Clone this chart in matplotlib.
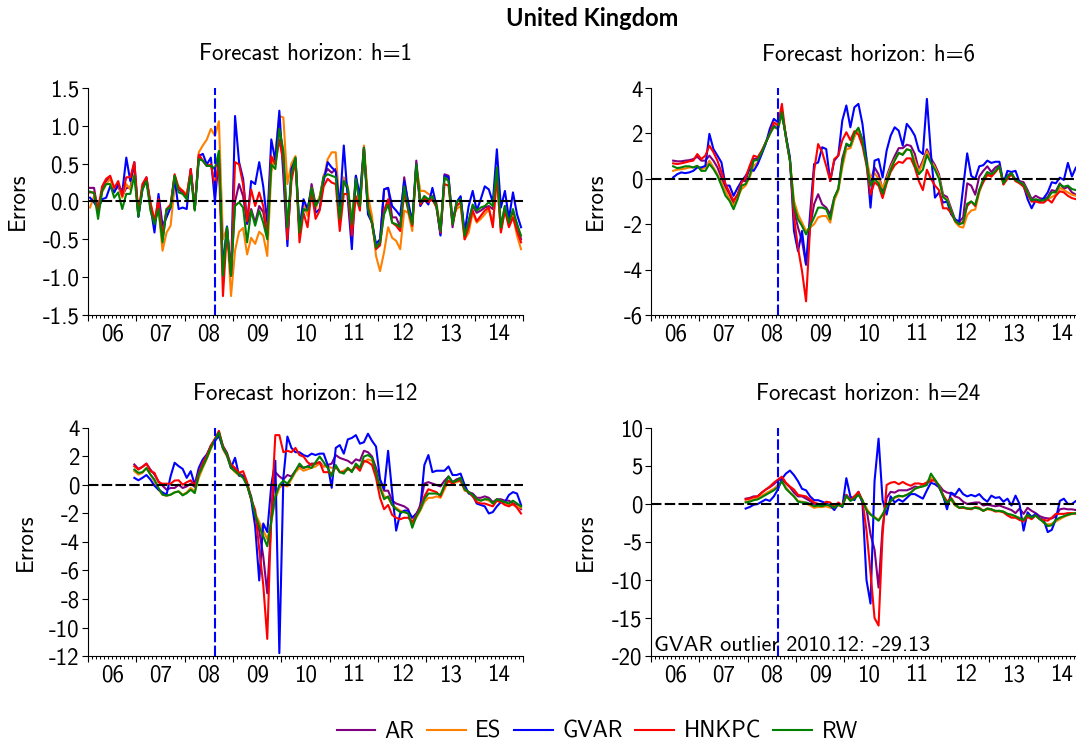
import numpy as np
import matplotlib.pyplot as plt
from matplotlib.ticker import FixedLocator, FuncFormatter, NullFormatter
from matplotlib.lines import Line2D

plt.rcParams['font.family'] = ['cmss10', 'DejaVu Sans']
plt.rcParams['axes.unicode_minus'] = False

models = ['AR', 'ES', 'GVAR', 'HNKPC', 'RW']
colors = ['#800080', '#ff8000', '#0000ff', '#ff0000', '#008000']

# forecast errors, monthly; start = months after 2006-01
h1_start = 0
h1_ar = [0.18, 0.18, -0.15, 0.14, 0.27, 0.32, 0.14, 0.20, 0.07, 0.18,
         0.18, 0.45, -0.20, 0.20, 0.32, -0.06, -0.28, -0.06, -0.50, -0.12,
         -0.06, 0.34, 0.16, 0.12, 0.07, 0.40, -0.10, 0.58, 0.54, 0.47,
         0.47, 0.43, 0.62, -0.90, -0.34, -0.98, 0.00, 0.23, 0.07, -0.30,
         -0.10, -0.28, -0.06, -0.14, -0.45, 0.56, 0.50, 0.98, 0.62, -0.45,
         0.36, 0.58, -0.43, -0.10, -0.15, 0.23, -0.04, 0.05, 0.34, 0.43,
         0.38, 0.43, -0.21, 0.27, 0.16, -0.28, 0.34, -0.06, 0.71, -0.10,
         -0.28, -0.61, -0.54, 0.16, 0.18, -0.21, -0.21, -0.34, 0.32, -0.04,
         -0.28, 0.54, -0.04, 0.07, 0.01, 0.07, -0.04, -0.43, 0.36, 0.34,
         -0.34, -0.01, 0.05, -0.45, -0.26, -0.06, -0.15, -0.12, -0.08, -0.06,
         -0.10, 0.43, -0.34, -0.06, -0.30, -0.15, -0.30, -0.50]
h1_es = [-0.08, 0.07, -0.10, 0.12, 0.23, 0.30, 0.16, 0.23, 0.05, 0.23,
         0.16, 0.38, -0.15, 0.16, 0.27, -0.04, -0.23, -0.10, -0.65, -0.41,
         -0.32, 0.20, 0.20, 0.14, 0.10, 0.38, -0.10, 0.65, 0.74, 0.82,
         0.96, 0.87, 1.06, -0.50, -0.35, -1.25, -0.65, -0.40, -0.35, -0.70,
         -0.48, -0.56, -0.40, -0.45, -0.72, 0.38, 0.65, 1.13, 1.11, 0.23,
         0.50, 0.60, -0.37, 0.00, -0.19, 0.18, -0.10, 0.07, 0.30, 0.56,
         0.65, 0.65, -0.10, 0.32, 0.20, -0.28, 0.25, 0.03, 0.74, 0.07,
         -0.19, -0.72, -0.92, -0.67, -0.34, -0.48, -0.52, -0.63, -0.12, -0.15,
         -0.39, 0.47, 0.14, 0.14, 0.10, 0.07, -0.01, -0.37, 0.32, 0.30,
         -0.21, -0.10, -0.06, -0.50, -0.41, -0.15, -0.28, -0.23, -0.17, -0.10,
         -0.30, 0.32, -0.39, -0.10, -0.32, -0.19, -0.45, -0.63]
h1_gvar = [0.05, -0.01, -0.10, 0.03, 0.05, 0.20, 0.12, 0.23, 0.12, 0.58,
           0.27, 0.52, -0.20, 0.16, 0.30, -0.06, -0.41, 0.10, -0.32, -0.21,
           -0.08, 0.30, -0.10, -0.08, -0.10, 0.43, -0.10, 0.60, 0.63, 0.49,
           0.58, 0.00, 0.60, -0.90, -0.33, -0.98, 1.13, 0.52, 0.30, -0.28,
           0.27, 0.23, 0.52, 0.20, -0.28, 0.82, 0.54, 1.20, 0.34, -0.59,
           0.43, 0.56, -0.37, 0.03, -0.10, 0.16, -0.15, -0.10, 0.27, 0.52,
           0.45, 0.40, -0.06, 0.74, 0.03, -0.63, 0.34, 0.07, 0.71, -0.17,
           -0.28, -0.56, -0.50, 0.16, 0.18, -0.06, -0.12, -0.19, 0.27, -0.01,
           -0.28, 0.49, -0.06, 0.03, -0.04, 0.18, -0.06, -0.45, 0.34, 0.32,
           -0.28, -0.01, 0.07, -0.41, -0.06, 0.14, -0.12, 0.03, 0.20, 0.16,
           -0.01, 0.69, -0.08, 0.14, -0.23, 0.12, -0.17, -0.34]
h1_hnkpc = [0.12, 0.12, -0.10, 0.20, 0.30, 0.34, 0.18, 0.27, 0.07, 0.32,
            0.32, 0.52, -0.15, 0.23, 0.32, -0.01, -0.26, 0.03, -0.45, -0.10,
            -0.04, 0.36, 0.18, 0.14, 0.07, 0.43, -0.10, 0.62, 0.54, 0.47,
            0.49, 0.20, 0.52, -1.25, -0.37, -0.98, 0.52, 0.49, 0.23, -0.26,
            0.16, -0.06, 0.12, -0.06, -0.45, 0.60, 0.49, 0.82, 0.52, -0.50,
            0.27, 0.54, -0.54, -0.15, -0.34, 0.14, -0.23, -0.12, 0.20, 0.30,
            0.25, 0.23, -0.39, 0.10, 0.10, -0.45, 0.07, -0.12, 0.70, -0.06,
            -0.30, -0.63, -0.58, -0.12, 0.03, -0.28, -0.32, -0.39, 0.12, -0.12,
            -0.32, 0.45, -0.04, 0.05, -0.01, 0.03, -0.08, -0.41, 0.23, 0.21,
            -0.30, -0.06, -0.01, -0.50, -0.34, -0.12, -0.26, -0.19, -0.12, -0.08,
            -0.34, 0.34, -0.41, -0.12, -0.34, -0.21, -0.39, -0.54]
h1_rw = [0.13, 0.11, -0.23, 0.14, 0.23, 0.23, 0.05, 0.12, -0.10, 0.10,
         0.10, 0.34, -0.20, 0.16, 0.27, -0.12, -0.30, -0.10, -0.54, -0.10,
         -0.08, 0.34, 0.12, 0.10, 0.03, 0.34, -0.12, 0.56, 0.54, 0.47,
         0.47, 0.43, 0.67, -0.98, -0.34, -0.98, -0.06, -0.01, -0.08, -0.54,
         -0.12, -0.32, -0.12, -0.28, -0.50, 0.49, 0.43, 0.96, 0.67, -0.34,
         0.36, 0.58, -0.41, -0.10, -0.12, 0.18, -0.06, 0.03, 0.32, 0.36,
         0.34, 0.32, -0.23, 0.27, 0.18, -0.30, 0.30, -0.06, 0.71, -0.10,
         -0.28, -0.61, -0.54, -0.17, -0.04, -0.28, -0.30, -0.34, 0.20, -0.10,
         -0.30, 0.49, -0.01, 0.07, 0.03, 0.07, -0.06, -0.39, 0.32, 0.27,
         -0.30, -0.01, 0.03, -0.45, -0.26, -0.04, -0.12, -0.08, -0.06, -0.01,
         -0.06, 0.45, -0.34, -0.06, -0.28, -0.10, -0.30, -0.45]

h6_start = 5
h6_ar = [0.80, 0.77, 0.77, 0.80, 0.82, 0.87, 0.97, 0.80, 0.80, 1.02,
         0.80, 0.50, 0.05, -0.38, -0.68, -1.12, -0.80, -0.10, -0.10, 0.50,
         0.87, 0.90, 1.20, 1.60, 1.98, 2.35, 2.20, 3.00, 1.83, 0.80,
         -1.40, -2.15, -2.74, -3.78, -2.15, -1.12, -0.68, -1.12, -1.27, -1.56,
         -0.83, -0.45, 0.90, 1.50, 1.40, 1.90, 2.20, 1.70, 0.80, -0.15,
         0.50, 0.20, -0.50, 0.10, 0.60, 1.00, 1.35, 1.35, 1.50, 1.45,
         1.10, 0.40, 0.80, 1.30, 0.90, 0.60, 0.20, -0.70, -0.80, -1.30,
         -1.80, -1.90, -1.70, -0.20, -0.30, -0.70, 0.10, 0.35, 0.55, 0.30,
         0.50, 0.60, -0.20, 0.15, 0.25, -0.05, -0.10, -0.15, -0.50, -0.90,
         -0.75, -0.85, -0.90, -0.80, -0.50, -0.55, -0.20, -0.45, -0.35, -0.60,
         -0.70, -0.75, -0.80]
h6_es = [0.35, 0.40, 0.42, 0.45, 0.50, 0.50, 0.57, 0.42, 0.50, 0.80,
         0.50, 0.20, -0.16, -0.53, -0.90, -1.19, -0.83, -0.45, -0.30, 0.06,
         0.57, 0.72, 1.17, 1.60, 1.98, 2.27, 2.20, 2.80, 1.90, 0.80,
         -0.97, -1.56, -1.93, -2.30, -2.15, -2.00, -1.70, -1.64, -1.64, -1.93,
         -0.97, -0.53, 0.50, 1.30, 1.35, 1.85, 2.15, 1.75, 0.90, 0.00,
         0.25, 0.00, -0.40, 0.00, 0.50, 0.85, 1.10, 1.10, 1.30, 1.25,
         0.80, 0.30, 0.70, 1.20, 0.80, 0.50, 0.10, -0.80, -0.90, -1.40,
         -1.90, -2.10, -2.15, -1.60, -1.40, -1.35, -0.60, -0.10, 0.15, 0.10,
         0.30, 0.50, -0.25, 0.10, 0.20, -0.10, -0.15, -0.25, -0.60, -1.00,
         -0.95, -1.00, -0.95, -0.90, -0.80, -0.70, -0.40, -0.50, -0.60, -0.70,
         -0.75, -0.80, -0.85]
h6_gvar = [0.06, 0.20, 0.28, 0.25, 0.28, 0.35, 0.50, 0.50, 0.57, 1.98,
           1.31, 1.02, 0.72, -0.30, -0.30, -0.75, -0.40, -0.10, 0.13, 0.43,
           0.35, 0.65, 1.09, 1.55, 2.20, 2.64, 2.49, 2.86, 1.90, 0.95,
           -2.30, -3.19, -2.30, -3.78, -1.56, 0.65, 0.72, 1.39, 1.31, -0.10,
           0.80, 1.02, 2.57, 3.23, 2.27, 3.15, 3.30, 2.42, 0.87, -1.27,
           0.80, 0.87, 0.06, 1.24, 1.90, 2.27, 2.12, 1.46, 2.42, 2.20,
           1.90, 1.24, 1.09, 3.52, 1.10, -0.83, -0.60, -1.05, -1.00, -1.56,
           -1.78, -1.90, -0.38, 1.12, 0.13, 0.00, 0.55, 0.60, 0.80, 0.70,
           0.75, 0.75, -0.20, 0.35, 0.30, 0.35, -0.15, -0.30, -0.90, -1.30,
           -0.95, -1.00, -0.85, -0.60, -0.15, -0.20, 0.05, -0.05, 0.70, 0.10,
           0.50, 0.60, 0.40]
h6_hnkpc = [0.68, 0.65, 0.68, 0.72, 0.77, 0.80, 1.09, 0.87, 1.02, 1.46,
            1.17, 0.80, 0.28, -0.23, -0.60, -0.97, -0.68, -0.16, 0.06, 0.57,
            1.02, 0.95, 1.24, 1.60, 1.98, 2.49, 2.35, 3.30, 1.83, 0.80,
            -1.70, -3.04, -4.07, -5.40, -2.15, 0.35, 1.53, 1.17, 0.57, -0.10,
            0.87, 1.02, 1.70, 2.05, 1.70, 2.10, 1.95, 1.45, 0.60, -0.70,
            -0.15, -0.30, -0.85, -0.20, 0.30, 0.60, 0.75, 0.70, 0.90, 0.90,
            0.50, -0.10, -0.50, 0.40, 0.00, -0.30, -0.50, -1.30, -1.30, -1.50,
            -1.85, -2.00, -1.90, -1.20, -1.00, -1.20, -0.50, -0.15, 0.20, 0.10,
            0.30, 0.55, -0.25, 0.00, 0.20, -0.10, -0.20, -0.35, -0.70, -1.00,
            -1.00, -1.05, -1.05, -0.90, -1.05, -0.75, -0.55, -0.60, -0.75, -0.85,
            -0.90, -0.95, -1.00]
h6_rw = [0.55, 0.47, 0.50, 0.55, 0.55, 0.50, 0.57, 0.35, 0.35, 0.65,
         0.43, 0.13, -0.30, -0.75, -0.97, -1.34, -0.90, -0.30, -0.23, 0.13,
         0.80, 0.83, 1.17, 1.60, 1.98, 2.30, 2.20, 2.93, 1.83, 0.80,
         -1.19, -1.78, -2.08, -2.45, -2.08, -1.70, -1.27, -1.27, -1.34, -1.78,
         -0.83, -0.45, 0.70, 1.55, 1.45, 2.00, 2.25, 1.70, 0.70, -0.30,
         0.00, -0.20, -0.65, -0.15, 0.40, 0.80, 1.15, 1.05, 1.30, 1.25,
         0.60, 0.20, 0.40, 1.05, 0.70, 0.40, 0.00, -0.80, -0.95, -1.40,
         -1.85, -2.00, -1.95, -1.10, -1.00, -1.15, -0.50, 0.00, 0.30, 0.20,
         0.35, 0.55, -0.20, 0.10, 0.25, -0.05, -0.15, -0.25, -0.60, -0.95,
         -0.90, -0.95, -0.95, -0.85, -0.60, -0.60, -0.25, -0.35, -0.30, -0.45,
         -0.50, -0.55, -0.60]

h12_start = 11
h12_ar = [1.44, 1.13, 1.27, 1.50, 1.08, 0.73, 0.26, -0.05, -0.33, -0.21,
          -0.21, 0.02, -0.21, -0.10, 0.10, -0.14, 0.73, 1.44, 2.00, 2.74,
          3.16, 3.68, 2.74, 2.26, 1.32, 1.08, 0.80, 0.66, 0.02, -0.80,
          -2.20, -3.20, -5.00, -7.60, -2.50, 0.90, 0.60, 0.40, 0.70, 0.60,
          1.00, 1.30, 1.20, 1.30, 1.50, 1.50, 1.60, 1.30, 1.40, 1.50,
          2.10, 1.90, 1.80, 1.70, 1.50, 1.80, 1.70, 2.40, 2.30, 2.00,
          1.20, 0.30, -0.40, -0.40, -1.10, -1.30, -1.40, -1.50, -1.70, -2.80,
          -2.10, -1.40, 0.10, 0.20, 0.10, 0.00, -0.10, 0.30, 0.60, 0.20,
          0.40, 0.50, -0.30, -0.50, -0.60, -0.90, -0.90, -0.80, -0.90, -1.20,
          -1.00, -1.00, -1.10, -1.10, -1.30, -1.40, -1.70]
h12_es = [0.97, 0.73, 0.85, 1.20, 0.73, 0.26, -0.33, -0.68, -0.75, -0.68,
          -0.52, -0.45, -0.68, -0.52, -0.21, -0.45, 0.50, 1.20, 1.84, 2.55,
          3.09, 3.63, 2.50, 2.00, 1.20, 0.90, 0.66, 0.61, -0.05, -1.04,
          -1.98, -2.60, -3.20, -3.80, -2.60, -1.00, -0.20, 0.00, -0.10, 0.40,
          0.90, 1.20, 1.00, 1.10, 1.20, 1.30, 1.50, 1.30, 1.30, 1.20,
          1.30, 0.90, 1.00, 1.20, 1.00, 1.40, 1.20, 1.60, 1.80, 1.70,
          0.90, 0.00, -0.80, -0.90, -1.40, -1.60, -1.80, -1.90, -2.00, -2.70,
          -2.30, -1.80, -1.20, -0.90, -0.90, -0.80, -0.90, -0.30, 0.30, 0.10,
          0.20, 0.30, -0.40, -0.50, -0.80, -1.00, -1.10, -1.00, -1.10, -1.30,
          -1.10, -1.20, -1.30, -1.40, -1.40, -1.50, -1.60]
h12_gvar = [0.50, 0.33, 0.50, 0.70, 0.38, -0.05, -0.33, -0.52, -0.68, 0.61,
            1.56, 1.32, 1.13, 0.50, 0.97, 0.02, 1.20, 1.80, 2.15, 2.74,
            3.09, 3.44, 2.60, 2.10, 1.20, 1.91, 0.66, 0.61, 0.02, -0.99,
            -2.92, -6.70, -2.70, -3.30, 0.00, 1.70, -11.80, 0.50, 3.40, 2.60,
            2.30, 2.30, 2.10, 2.00, 2.20, 2.10, 2.20, 2.20, 1.40, -0.20,
            2.60, 2.80, 2.20, 3.20, 3.30, 3.50, 2.90, 3.00, 3.60, 3.10,
            2.70, 0.40, -0.30, 2.40, -0.50, -3.20, -2.00, -1.80, -1.80, -2.30,
            -2.00, -1.60, 1.40, 2.10, 0.90, 1.00, 1.00, 1.00, 1.30, 0.70,
            0.70, 0.80, 0.00, -0.60, -0.70, -1.30, -1.40, -1.50, -2.00, -1.90,
            -1.50, -1.20, -1.20, -0.70, -0.50, -0.60, -1.40]
h12_hnkpc = [1.32, 1.08, 1.27, 1.50, 0.97, 0.85, 0.19, 0.09, 0.09, 0.09,
             0.31, 0.33, 0.02, 0.19, 0.33, -0.05, 0.85, 1.56, 2.08, 2.78,
             3.25, 3.80, 2.70, 2.15, 1.44, 1.20, 0.85, 0.97, 0.19, -0.99,
             -1.75, -4.50, -7.00, -10.80, -2.00, 3.50, 3.50, 2.30, 2.40, 2.30,
             2.60, 2.10, 2.00, 1.60, 1.40, 1.50, 1.60, 0.90, 0.90, 0.80,
             1.30, 0.90, 0.90, 1.10, 1.00, 1.30, 1.00, 1.70, 1.60, 1.40,
             0.50, -0.90, -1.70, -1.40, -2.10, -2.30, -2.40, -2.30, -2.30, -2.60,
             -2.10, -1.60, -0.80, -0.30, -0.40, -0.50, -0.80, -0.10, 0.30, 0.10,
             0.30, 0.30, -0.30, -0.50, -0.80, -1.20, -1.30, -1.30, -1.40, -1.50,
             -1.10, -1.20, -1.40, -1.50, -1.30, -1.60, -2.00]
h12_rw = [1.08, 0.85, 0.90, 1.18, 0.73, 0.38, -0.21, -0.68, -0.75, -0.68,
          -0.52, -0.45, -0.73, -0.57, -0.33, -0.57, 0.73, 1.32, 1.90, 2.62,
          3.16, 3.68, 2.62, 2.15, 1.20, 0.97, 0.73, 0.50, -0.05, -0.92,
          -2.10, -2.90, -3.60, -4.30, -2.50, -0.80, 0.00, 0.30, 0.10, 0.50,
          1.00, 1.50, 1.20, 1.30, 1.20, 1.60, 2.00, 1.60, 1.20, 0.60,
          1.40, 0.90, 0.80, 1.20, 0.90, 1.50, 1.20, 2.00, 2.10, 1.90,
          0.90, -0.20, -1.00, -0.80, -1.40, -1.70, -1.90, -1.90, -2.00, -3.00,
          -2.20, -1.70, -1.00, -0.60, -0.60, -0.60, -0.70, 0.00, 0.60, 0.20,
          0.30, 0.50, -0.30, -0.50, -0.70, -1.00, -1.10, -1.00, -1.00, -1.30,
          -1.00, -1.10, -1.20, -1.30, -1.10, -1.30, -1.50]

h24_start = 23
h24_ar = [0.7, 0.8, 1.0, 1.0, 1.5, 1.9, 2.2, 2.6, 3.1, 3.3,
          2.7, 2.2, 1.5, 1.0, 1.0, 0.7, 0.4, 0.0, 0.0, -0.2,
          0.0, -0.3, -0.5, 0.0, -0.2, 1.2, 0.6, 1.0, 1.3, 0.3,
          -0.6, -4.0, -6.0, -11.0, -3.0, 0.8, 1.6, 1.5, 1.8, 1.8,
          1.8, 2.0, 2.3, 2.2, 2.5, 2.7, 3.4, 3.0, 2.5, 1.8,
          1.5, 1.4, 1.0, 0.8, 0.3, 0.0, 0.1, 0.2, 0.2, -0.2,
          -0.1, -0.2, -0.3, -0.2, -0.4, -0.6, -0.8, -1.2, -0.6, -1.3,
          -0.5, -0.9, -1.2, -1.6, -1.8, -1.9, -1.9, -1.6, -0.7, -0.6,
          -0.7, -0.7, -0.8, -0.5, -0.9]
h24_es = [0.3, 0.4, 0.6, 0.8, 1.1, 1.4, 1.7, 2.0, 2.5, 2.9,
          2.2, 1.5, 1.0, 0.4, 0.3, 0.1, -0.2, -0.5, -0.4, -0.4,
          -0.3, -0.5, -0.5, -0.2, -0.3, 1.0, 0.5, 0.8, 1.2, 0.4,
          -0.6, -1.3, -1.7, -2.1, -1.3, -0.5, 0.3, 0.8, 1.0, 1.0,
          1.2, 1.5, 2.0, 2.2, 2.4, 2.9, 3.5, 3.0, 2.5, 1.1,
          0.3, 0.5, -0.2, -0.5, -0.5, -0.6, -0.6, -0.5, -0.6, -0.9,
          -0.7, -0.8, -0.9, -1.0, -1.0, -1.3, -1.5, -1.7, -1.8, -2.0,
          -1.3, -1.9, -1.5, -1.9, -2.5, -2.7, -2.6, -2.3, -2.0, -1.7,
          -1.5, -1.3, -1.2, -0.9, -1.1]
h24_gvar = [-0.6, -0.4, -0.1, 0.0, 0.3, 0.6, 0.4, 1.0, 1.9, 3.3,
            4.0, 4.4, 3.8, 3.0, 2.0, 1.8, 1.0, 0.5, 0.5, 0.3,
            0.1, -0.2, -0.8, 0.0, -0.4, 3.4, 1.0, 0.5, 1.6, 0.2,
            -10.0, -13.1, 3.0, 8.6, 0.5, -1.4, 1.0, 0.2, 0.6, 0.3,
            0.8, 1.3, 1.3, 1.0, 0.7, 1.8, 2.8, 2.6, 2.2, 1.1,
            -0.7, 1.5, 1.2, 2.0, 1.3, 1.0, 1.2, 1.0, 1.3, 0.7,
            0.3, 1.1, 0.8, 0.9, 0.3, 0.7, -0.2, 1.1, 0.0, -3.5,
            -1.1, -1.7, -1.3, -1.9, -2.1, -3.7, -3.4, -2.0, 0.4, 0.7,
            0.0, 0.0, 0.4, -0.2, -0.8]
h24_hnkpc = [0.6, 0.7, 0.9, 1.0, 1.5, 1.9, 2.3, 2.8, 3.2, 3.6,
             2.8, 2.3, 1.9, 1.2, 1.1, 1.0, 0.6, 0.2, 0.0, -0.2,
             0.3, 0.2, -0.4, 0.2, -0.2, 1.2, 0.5, 1.0, 1.6, 0.5,
             -3.5, -9.0, -15.0, -16.0, -4.0, 2.5, 2.8, 2.9, 2.6, 2.9,
             2.6, 2.4, 2.7, 2.7, 2.6, 2.8, 3.0, 3.2, 2.3, 1.2,
             0.3, 0.8, 0.0, -0.5, -0.5, -0.6, -0.7, -0.4, -0.5, -0.9,
             -0.6, -0.7, -1.0, -0.9, -1.1, -1.5, -1.8, -1.8, -2.1, -2.3,
             -1.7, -2.0, -1.5, -2.0, -2.1, -2.2, -1.8, -1.3, -1.3, -1.3,
             -1.2, -1.2, -1.3, -1.0, -1.1]
h24_rw = [0.2, 0.3, 0.5, 0.6, 0.9, 1.2, 1.5, 1.8, 2.2, 3.0,
          2.0, 1.5, 1.0, 0.3, 0.2, 0.2, 0.0, -0.3, -0.2, -0.3,
          -0.1, -0.2, -0.5, -0.1, -0.3, 1.1, 0.4, 0.7, 1.2, 0.5,
          -0.8, -1.4, -1.8, -2.2, -1.4, -0.3, 0.4, 0.9, 1.1, 1.0,
          1.2, 1.5, 2.0, 2.2, 2.3, 2.5, 4.0, 3.2, 2.4, 1.0,
          0.1, 0.7, -0.1, -0.5, -0.4, -0.6, -0.6, -0.5, -0.6, -0.9,
          -0.6, -0.7, -0.9, -0.9, -1.0, -1.3, -1.4, -1.6, -1.9, -2.1,
          -1.4, -1.8, -1.5, -2.0, -2.4, -2.9, -2.8, -2.1, -1.8, -1.6,
          -1.4, -1.3, -1.2, -0.7, -1.0]

crisis_date = 2008.625   # Lehman, Aug/Sep 2008
outlier_note = 'GVAR outlier 2010.12: -29.13'

panels = [
    ('Forecast horizon: h=1', h1_start, [h1_ar, h1_es, h1_gvar, h1_hnkpc, h1_rw],
     (-1.5, 1.5), 0.5, '%.1f', [0.0818, 0.5755, 0.4043, 0.3059], -0.136),
    ('Forecast horizon: h=6', h6_start, [h6_ar, h6_es, h6_gvar, h6_hnkpc, h6_rw],
     (-6, 4), 2, '%d', [0.6050, 0.5755, 0.4043, 0.3059], -0.101),
    ('Forecast horizon: h=12', h12_start, [h12_ar, h12_es, h12_gvar, h12_hnkpc, h12_rw],
     (-12, 4), 2, '%d', [0.0818, 0.1159, 0.4043, 0.3073], -0.117),
    ('Forecast horizon: h=24', h24_start, [h24_ar, h24_es, h24_gvar, h24_hnkpc, h24_rw],
     (-20, 10), 5, '%d', [0.6050, 0.1159, 0.4043, 0.3073], -0.124),
]

months = np.arange(2006, 2015 + 1e-9, 1 / 12)
years = np.arange(2006, 2016)


def year_label(x, pos):
    m = int(round(x * 12))
    if m % 12 == 6:
        return '%02d' % ((m // 12) % 100)
    return ''


fig = plt.figure(figsize=(10.76, 7.42), dpi=100)

for k, (title, start, series, ylim, ystep, yfmt, pos, ylab_x) in enumerate(panels):
    ax = fig.add_axes(pos)
    for vals, c in zip(series, colors):
        x = 2006 + (start + np.arange(len(vals)) + 0.5) / 12
        ax.plot(x, vals, color=c, lw=1.5, zorder=2)
    ax.axhline(0, color='black', lw=1.5, ls=(0, (5, 1.6)), zorder=3)
    ax.axvline(crisis_date, color='#0000ff', lw=1.5, ls=(0, (5, 1.6)), zorder=3)

    ax.set_xlim(2006, 2015)
    ax.set_ylim(*ylim)
    yt = np.arange(ylim[0], ylim[1] + 1e-9, ystep)
    ax.set_yticks(yt)
    ax.set_yticklabels([yfmt % v for v in yt])

    ax.xaxis.set_major_locator(FixedLocator(years))
    ax.xaxis.set_major_formatter(NullFormatter())
    ax.xaxis.set_minor_locator(FixedLocator(months))
    ax.xaxis.set_minor_formatter(FuncFormatter(year_label))
    ax.tick_params(axis='x', which='major', length=4.5, width=0.8)
    ax.tick_params(axis='x', which='minor', length=2.3, width=0.7,
                   labelsize=16.5, pad=3.5)
    ax.tick_params(axis='y', length=4, width=0.8, labelsize=16.5, pad=2)

    for side in ['top', 'right']:
        ax.spines[side].set_visible(False)
    ax.set_title(title, fontsize=16.5, pad=20)
    ax.set_ylabel('Errors', fontsize=16.5)
    ax.yaxis.set_label_coords(ylab_x, 0.5)

    if k == 3:
        ax.text(0.006, 0.003, outlier_note, transform=ax.transAxes,
                fontsize=16, ha='left', va='bottom')

fig.text(0.55, 0.9757, 'United Kingdom', ha='center', va='center',
         fontsize=17, fontweight='bold', family=['Lato', 'DejaVu Sans'])

handles = [Line2D([], [], color=c, lw=1.5) for c in colors]
fig.legend(handles, models, loc='center', bbox_to_anchor=(0.555, 0.014),
           ncol=5, frameon=False, fontsize=16.5, handlelength=1.7,
           handletextpad=0.4, columnspacing=0.55)

fig.savefig('out.png', dpi=100)
